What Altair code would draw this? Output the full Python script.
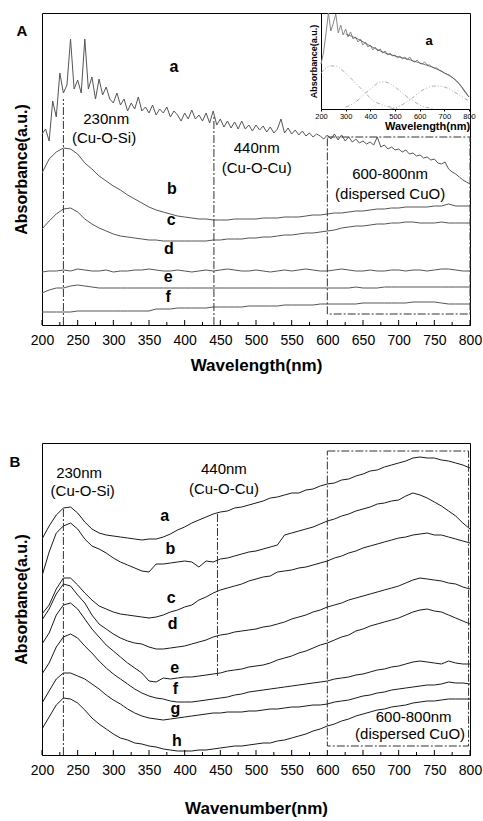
import altair as alt
import pandas as pd

# ---------------- sampling grids / ticks ----------------
X5 = list(range(200, 801, 5))
X10 = list(range(200, 801, 10))
FIT_X = list(range(300, 801, 50))
TICKS = list(range(200, 801, 25))
MAIN_LABELS = list(range(200, 801, 50))
INSET_LABELS = list(range(200, 801, 100))

# ---------------- Panel A (values in plot-height units 0..312) ----------------
A_a = [191, 196, 184, 224, 208, 252, 232, 240, 286, 236,
       245, 232, 286, 236, 248, 226, 246, 230, 238, 226,
       222, 232, 220, 226, 214, 222, 216, 228, 214, 218,
       212, 220, 210, 216, 212, 218, 208, 214, 210, 204,
       212, 206, 215, 206, 210, 204, 212, 202, 214, 200,
       206, 198, 204, 197, 203, 196, 204, 196, 200, 194,
       200, 195, 199, 193, 198, 192, 196, 206, 192, 197,
       191, 195, 190, 194, 189, 192, 188, 191, 189, 186,
       190, 186, 191, 185, 190, 184, 188, 183, 186, 182,
       184, 181, 183, 180, 188, 178, 180, 176, 178, 175,
       176, 173, 175, 171, 172, 169, 170, 167, 168, 165,
       166, 162, 161, 163, 156, 153, 151, 148, 145, 143,
       141]
A_b = [152, 166, 173, 177, 176, 171, 162, 156, 149, 144,
       139, 135, 130, 126, 122, 118, 115, 113, 111, 109,
       108, 107, 106, 106, 105, 105, 105, 106, 106, 106,
       106, 107, 107, 107, 108, 108, 108, 109, 110, 110,
       111, 112, 112, 113, 114, 114, 115, 116, 116, 117,
       117, 118, 118, 118, 118, 119, 119, 121, 119, 119,
       119]
A_c = [96, 104, 111, 116, 117, 113, 106, 101, 97, 94,
       91, 89, 88, 87, 86, 85, 85, 84, 84, 84,
       84, 84, 84, 84, 85, 85, 86, 86, 86, 87,
       87, 88, 88, 89, 90, 90, 91, 92, 92, 93,
       94, 95, 97, 98, 99, 99, 100, 101, 101, 102,
       102, 103, 103, 102, 102, 102, 103, 102, 102, 102,
       102]
A_d = [53, 54, 54, 55, 54, 56, 55, 54, 54, 55,
       53, 54, 54, 55, 55, 56, 55, 54, 54, 55,
       54, 53, 54, 55, 54, 55, 56, 55, 54, 54,
       55, 54, 53, 54, 55, 54, 55, 56, 55, 54,
       54, 55, 56, 55, 54, 54, 55, 54, 54, 55,
       55, 54, 55, 55, 54, 55, 56, 56, 55, 54,
       54]
A_e = [32, 35, 37, 37, 39, 40, 39, 38, 37, 37,
       37, 37, 37, 37, 37, 37, 37, 37, 37, 37,
       37, 37, 37, 37, 37, 37, 37, 37, 37, 37,
       37, 37, 37, 37, 37, 37, 37, 37, 37, 37,
       37, 37, 37, 37, 38, 37, 37, 37, 38, 38,
       38, 38, 38, 38, 38, 38, 38, 38, 38, 38,
       38]
A_f = [13, 13, 13, 13, 13, 14, 14, 14, 14, 14,
       14, 14, 14, 14, 14, 14, 16, 16, 16, 17,
       17, 17, 17, 17, 18, 18, 18, 18, 18, 19,
       19, 19, 19, 19, 20, 20, 20, 20, 20, 21,
       21, 21, 21, 21, 21, 22, 22, 22, 22, 22,
       22, 22, 23, 23, 23, 23, 22, 21, 21, 21,
       21]

# inset (values in inset-height units 0..96)
INSET_a = [45, 56, 75, 96, 78, 86, 95, 76, 84, 74,
           80, 72, 77, 70, 72, 67, 70, 64, 67, 62,
           64, 59, 62, 58, 60, 56, 58, 54, 56, 53,
           54, 51, 53, 50, 52, 49, 52, 48, 47, 49,
           46, 45, 47, 44, 44, 42, 41, 41, 39, 38,
           36, 35, 34, 32, 30, 28, 25, 22, 18, 15,
           12]
INSET_FIT = [75, 70, 63, 57, 53, 50, 46, 42, 36, 28, 12]
G1_X = [200, 220, 240, 260, 280, 300, 320, 340, 360, 380, 400, 420, 440, 460, 480, 500, 520]
G1_Y = [36, 41, 43, 43, 40, 36, 31, 26, 21, 16, 11, 7, 5, 3, 2, 1, 0]
G2_X = [300, 320, 340, 360, 380, 400, 420, 440, 460, 480, 500, 520, 540, 560, 580, 600, 620, 640, 660]
G2_Y = [2, 4, 7, 11, 16, 20, 24, 27, 27, 25, 22, 18, 14, 10, 7, 4, 2, 1, 0]
G3_X = [480, 500, 520, 540, 560, 580, 600, 620, 640, 660, 680, 700, 720, 740, 760, 780, 800]
G3_Y = [0, 1, 3, 6, 9, 13, 17, 20, 22, 23, 23, 22, 20, 17, 14, 11, 8]

# ---------------- Panel B ----------------
B_a = [216, 229, 240, 247, 248, 242, 233, 226, 222, 220,
       219, 218, 217, 216, 215, 216, 216, 218, 221, 225,
       228, 232, 235, 238, 241, 243, 244, 247, 248, 250,
       252, 254, 257, 258, 260, 262, 262, 265, 266, 269,
       271, 272, 275, 276, 279, 281, 284, 285, 288, 290,
       292, 294, 297, 298, 297, 297, 295, 294, 292, 290,
       287]
B_b = [179, 203, 222, 229, 232, 226, 216, 209, 206, 202,
       197, 193, 190, 187, 184, 183, 191, 191, 192, 193,
       194, 193, 188, 194, 193, 196, 197, 199, 201, 203,
       204, 206, 208, 210, 220, 222, 224, 226, 228, 231,
       234, 236, 239, 241, 244, 246, 248, 251, 252, 254,
       255, 259, 262, 260, 257, 253, 249, 244, 239, 232,
       226]
B_c = [141, 150, 166, 177, 177, 170, 162, 155, 149, 146,
       143, 141, 140, 139, 138, 137, 138, 140, 143, 145,
       148, 150, 155, 158, 162, 165, 167, 169, 171, 174,
       176, 178, 179, 183, 184, 185, 187, 188, 190, 192,
       194, 197, 199, 202, 204, 207, 209, 211, 213, 215,
       217, 218, 220, 221, 222, 220, 220, 218, 216, 214,
       212]
B_d = [135, 146, 161, 171, 169, 160, 152, 140, 131, 126,
       121, 117, 114, 112, 111, 108, 106, 106, 107, 108,
       109, 111, 113, 115, 118, 120, 121, 123, 124, 125,
       126, 128, 129, 131, 133, 136, 138, 140, 143, 145,
       148, 150, 152, 155, 157, 159, 161, 163, 165, 167,
       169, 172, 175, 177, 176, 175, 174, 172, 171, 168,
       166]
B_e = [111, 122, 140, 150, 152, 146, 136, 126, 118, 110,
       104, 98, 92, 87, 82, 74, 73, 77, 76, 77,
       78, 78, 79, 80, 81, 82, 84, 85, 86, 88,
       89, 90, 92, 95, 97, 99, 102, 104, 107, 110,
       112, 115, 118, 120, 124, 126, 129, 131, 133, 135,
       137, 140, 143, 145, 146, 144, 143, 140, 137, 134,
       131]
B_f = [81, 92, 108, 118, 121, 117, 109, 102, 94, 87,
       81, 76, 71, 66, 62, 59, 57, 56, 54, 53,
       53, 53, 54, 55, 56, 57, 58, 60, 61, 63,
       64, 65, 66, 67, 68, 69, 70, 71, 72, 73,
       74, 76, 77, 78, 80, 81, 83, 85, 86, 88,
       89, 91, 93, 94, 93, 92, 91, 94, 92, 91,
       91]
B_g = [52, 64, 76, 82, 82, 79, 76, 71, 66, 60,
       55, 51, 46, 42, 39, 37, 36, 35, 36, 37,
       38, 39, 40, 41, 42, 42, 43, 43, 43, 44,
       44, 45, 46, 46, 47, 48, 48, 49, 50, 50,
       51, 53, 54, 55, 57, 59, 60, 62, 63, 65,
       66, 67, 68, 69, 70, 70, 71, 73, 72, 72,
       71]
B_h = [26, 38, 50, 57, 56, 52, 45, 37, 31, 26,
       21, 17, 15, 12, 11, 9, 8, 6, 5, 4,
       4, 4, 5, 5, 6, 7, 8, 9, 9, 10,
       11, 12, 12, 14, 15, 17, 19, 21, 24, 26,
       29, 31, 34, 36, 39, 41, 43, 45, 46, 48,
       49, 50, 52, 53, 54, 54, 55, 56, 56, 56,
       56]

# ---------------- annotations ----------------
A_LETTERS = ["a", "b", "c", "d", "e", "f"]
A_LET_X = [385, 382, 381, 378, 377, 377]
A_LET_Y = [258, 136, 105, 76, 48, 28]
A_NOTES = ["230nm", "(Cu-O-Si)", "440nm", "(Cu-O-Cu)", "600-800nm", "(dispersed CuO)"]
A_NOTE_X = [290, 287, 501, 501, 688, 688]
A_NOTE_Y = [206, 187, 177, 157, 151, 131]
A_VL_X = [230, 441]
A_VL_TOP = [226, 209]
A_BOX = [600, 800, 11, 188]

B_LETTERS = ["a", "b", "c", "d", "e", "f", "g", "h"]
B_LET_X = [372, 380, 381, 383, 386, 387, 387, 389]
B_LET_Y = [239, 206, 157, 131, 87, 66, 46, 14]
B_NOTES = ["230nm", "(Cu-O-Si)", "440nm", "(Cu-O-Cu)", "600-800nm", "(dispersed CuO)"]
B_NOTE_X = [252, 257, 455, 455, 721, 716]
B_NOTE_Y = [282, 264, 286, 266, 38, 21]
B_VL_X = [230, 446]
B_VL_BOT = [0, 79]
B_VL_TOP = [247, 241]
B_BOX = [600, 798, 9, 304]

FONT = "Liberation Sans"
DASH = [8, 2, 2, 2]


def curves(xs_list, ys_list, names):
    frames = [pd.DataFrame({"nm": xs, "v": ys, "s": n}) for xs, ys, n in zip(xs_list, ys_list, names)]
    return pd.concat(frames, ignore_index=True)


def main_layers(curve_df, line_color, letters, notes, vlines, box, panel_letter, panel_xy, xtitle, tpad):
    xsc = alt.Scale(domain=[200, 800], nice=False, zero=False)
    ysc = alt.Scale(domain=[0, 312], nice=False, zero=False)
    xax = alt.Axis(values=MAIN_LABELS, format="d", labelFontSize=14, ticks=False, labelPadding=8,
                   labelFlush=False, title=xtitle, titleFontSize=17, titleFontWeight="bold",
                   titlePadding=tpad, labelOverlap=False, grid=False)
    yax = alt.Axis(labels=False, ticks=False, domain=False, grid=False, title="Absorbance(a.u.)",
                   titleFontSize=16, titleFontWeight="bold", titlePadding=13)
    X = alt.X("nm:Q", scale=xsc, axis=xax)
    Y = alt.Y("v:Q", scale=ysc, axis=yax)
    X2 = alt.X2("nm2:Q")
    Y2 = alt.Y2("v2:Q")

    lines = alt.Chart(curve_df).mark_line(color=line_color, strokeWidth=1, clip=True).encode(
        x=X, y=Y, detail="s:N")

    vl = alt.Chart(pd.DataFrame(vlines)).mark_rule(color="#333", strokeWidth=1, strokeDash=DASH).encode(
        x=X, y=Y, y2=Y2)
    bx = alt.Chart(pd.DataFrame({"nm": [box[0]], "nm2": [box[1]], "v": [box[2]], "v2": [box[3]]})).mark_rect(
        filled=False, stroke="#333", strokeWidth=1, strokeDash=DASH).encode(
        x=X, x2=X2, y=Y, y2=Y2)
    tk = pd.DataFrame({"nm": TICKS, "v": [0] * len(TICKS),
                       "v2": [5 if t % 50 == 0 else 3 for t in TICKS]})
    ticks = alt.Chart(tk).mark_rule(color="black", strokeWidth=1).encode(x=X, y=Y, y2=Y2)

    let = alt.Chart(pd.DataFrame(letters)).mark_text(font=FONT, fontSize=16, fontWeight="bold",
                                                       color="black").encode(x=X, y=Y, text="t:N")
    nt = alt.Chart(pd.DataFrame(notes)).mark_text(font=FONT, fontSize=15, color="black").encode(
        x=X, y=Y, text="t:N")
    pl = alt.Chart(pd.DataFrame({"nm": [panel_xy[0]], "v": [panel_xy[1]], "t": [panel_letter]})).mark_text(
        font=FONT, fontSize=15, fontWeight="bold", color="black").encode(x=X, y=Y, text="t:N")
    return alt.layer(lines, vl, bx, ticks, let, nt, pl)


# ---- Panel A ----
dfA = curves([X5, X10, X10, X10, X10, X10], [A_a, A_b, A_c, A_d, A_e, A_f], A_LETTERS)
mainA = main_layers(
    dfA, "#555555",
    {"nm": A_LET_X, "v": A_LET_Y, "t": A_LETTERS},
    {"nm": A_NOTE_X, "v": A_NOTE_Y, "t": A_NOTES},
    {"nm": A_VL_X, "v": [0, 0], "v2": A_VL_TOP},
    A_BOX, "A", (172, 294), "Wavelength(nm)", 10)

ixsc = alt.Scale(domain=[200, 800], range=[279, 427], nice=False, zero=False)
iysc = alt.Scale(domain=[0, 96], range=[96, 0], nice=False, zero=False)
ixax = alt.Axis(orient="bottom", offset=-216, values=INSET_LABELS, format="d", labelFontSize=7.5,
                tickSize=2, labelPadding=1, labelFlush=False, title="Wavelength(nm)", titleFontSize=11,
                titleFontWeight="bold", titlePadding=1, titleX=385, labelOverlap=False, grid=False)
iyax = alt.Axis(orient="left", offset=-279, labels=False, ticks=False, grid=False,
                title="Absorbance(a.u.)", titleFontSize=9, titleFontWeight="bold", titlePadding=3)
IX = alt.X("ix:Q", scale=ixsc, axis=ixax)
IY = alt.Y("iv:Q", scale=iysc, axis=iyax)

inset_noisy = alt.Chart(pd.DataFrame({"ix": X10, "iv": INSET_a})).mark_line(
    color="#888888", strokeWidth=1, clip=True).encode(x=IX, y=IY)
inset_fit = alt.Chart(pd.DataFrame({"ix": FIT_X, "iv": INSET_FIT})).mark_line(
    color="#444444", strokeWidth=0.7, clip=True, interpolate="monotone").encode(x=IX, y=IY)
gdf = curves([G1_X, G2_X, G3_X], [G1_Y, G2_Y, G3_Y], ["g1", "g2", "g3"]).rename(columns={"nm": "ix", "v": "iv"})
inset_g = alt.Chart(gdf).mark_line(color="#999999", strokeWidth=0.8, strokeDash=[4, 2, 1, 2, 1, 2],
                                   interpolate="monotone").encode(x=IX, y=IY, detail="s:N")
inset_lbl = alt.Chart(pd.DataFrame({"ix": [638], "iv": [68], "t": ["a"]})).mark_text(
    font=FONT, fontSize=13, fontWeight="bold", color="black").encode(x=IX, y=IY, text="t:N")
insetA = alt.layer(inset_noisy, inset_fit, inset_g, inset_lbl)

panelA = alt.layer(mainA, insetA).resolve_scale(x="independent", y="independent").properties(
    width=428, height=312)

# ---- Panel B ----
dfB = curves([X10] * 8, [B_a, B_b, B_c, B_d, B_e, B_f, B_g, B_h], B_LETTERS)
mainB = main_layers(
    dfB, "#1a1a1a",
    {"nm": B_LET_X, "v": B_LET_Y, "t": B_LETTERS},
    {"nm": B_NOTE_X, "v": B_NOTE_Y, "t": B_NOTES},
    {"nm": B_VL_X, "v": B_VL_BOT, "v2": B_VL_TOP},
    B_BOX, "B", (162, 293), "Wavenumber(nm)", 23)
panelB = mainB.properties(width=428, height=312)

chart = alt.vconcat(panelA, panelB, spacing=68).properties(
    padding={"left": 8, "top": 12, "right": 0, "bottom": 0}
).configure(font=FONT, background="white").configure_view(
    stroke="black", strokeWidth=1
).configure_axis(
    labelColor="black", titleColor="black", domainColor="black", tickColor="black",
    labelFont=FONT, titleFont=FONT
)

chart.save("out.html", embed_options={"renderer": "svg", "actions": False})
